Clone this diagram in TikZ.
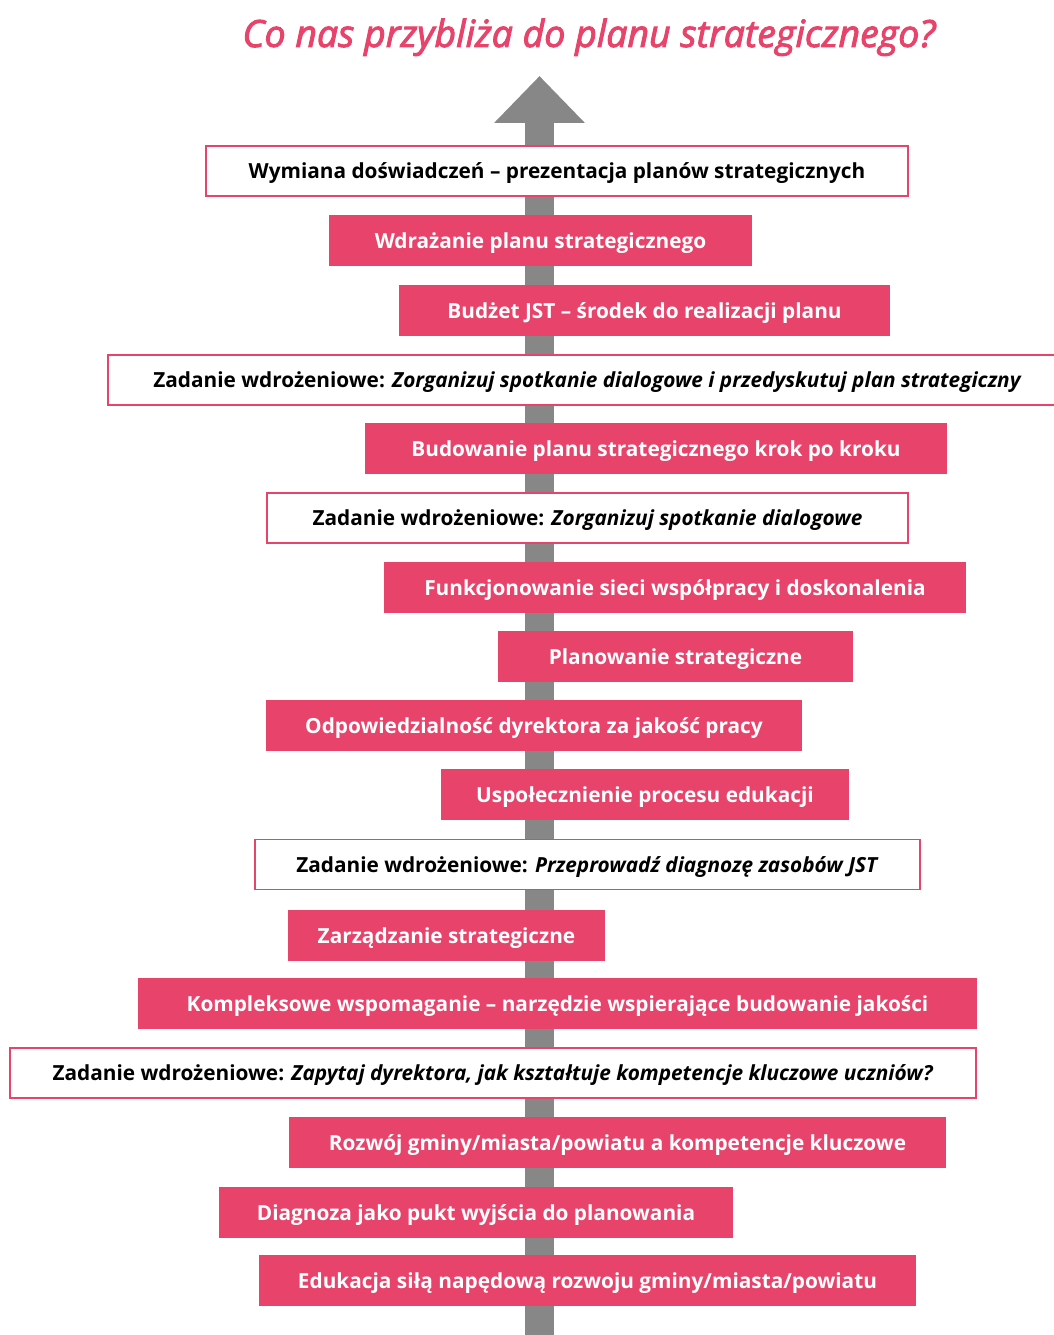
\documentclass[tikz,border=0pt]{standalone}
\usepackage{fontspec}
\setmainfont{Open Sans}
\newfontfamily\titlefont[FakeBold=2.5]{Open Sans}
\usetikzlibrary{arrows.meta}
\definecolor{pinkred}{HTML}{E8436A}
\definecolor{arrowgray}{HTML}{878787}

\begin{document}
\begin{tikzpicture}[x=1pt,y=-1pt,
	box/.style={rectangle, inner sep=0pt, minimum height=51pt, font=\fontsize{20.8}{25}\selectfont\bfseries, text height=15pt, text depth=0pt},
	pinkbox/.style={box, fill=pinkred, text=white},
	whitebox/.style={box, draw=pinkred, line width=1.2pt, fill=white, text=black, minimum height=50pt}]
				\useasboundingbox (0,0) rectangle (1054,1335);
				
				% the arrow behind the boxes
				\coordinate (18) at (539.5,1345);
				\coordinate (19) at (539.5,76);
				\draw[arrowgray, line width=29pt, -{Triangle[length=47pt,width=88pt]}] (18) -- (19);
				
				\node[anchor=base, text=pinkred, font=\fontsize{37.5}{44}\titlefont\itshape] (0) at (589,47) {Co nas przybliża do planu strategicznego?};
				
				\node[whitebox, minimum width=702pt] (1) at (557,171) {Wymiana doświadczeń – prezentacja planów strategicznych};
				\node[pinkbox, minimum width=423pt] (2) at (540.5,240.5) {Wdrażanie planu strategicznego};
				\node[pinkbox, minimum width=491pt] (3) at (644.5,310.5) {Budżet JST – środek do realizacji planu};
				\node[whitebox, minimum width=959pt] (4) at (587.5,380) {Zadanie wdrożeniowe: \textit{Zorganizuj spotkanie dialogowe i przedyskutuj plan strategiczny}};
				\node[pinkbox, minimum width=582pt] (5) at (656,448.5) {Budowanie planu strategicznego krok po kroku};
				\node[whitebox, minimum width=641pt] (6) at (587.5,518) {Zadanie wdrożeniowe: \textit{Zorganizuj spotkanie dialogowe}};
				\node[pinkbox, minimum width=582pt] (7) at (675,587.5) {Funkcjonowanie sieci współpracy i doskonalenia};
				\node[pinkbox, minimum width=355pt] (8) at (675.5,656.5) {Planowanie strategiczne};
				\node[pinkbox, minimum width=536pt] (9) at (534,725.5) {Odpowiedzialność dyrektora za jakość pracy};
				\node[pinkbox, minimum width=408pt] (10) at (645,794.5) {Uspołecznienie procesu edukacji};
				\node[whitebox, minimum width=665pt] (11) at (587.5,864.5) {Zadanie wdrożeniowe: \textit{Przeprowadź diagnozę zasobów JST}};
				\node[pinkbox, minimum width=317pt] (12) at (446.5,935.5) {Zarządzanie strategiczne};
				\node[pinkbox, minimum width=839pt] (13) at (557.5,1003.5) {Kompleksowe wspomaganie – narzędzie wspierające budowanie jakości};
				\node[whitebox, minimum width=966pt] (14) at (493,1073) {Zadanie wdrożeniowe: \textit{Zapytaj dyrektora, jak kształtuje kompetencje kluczowe uczniów?}};
				\node[pinkbox, minimum width=657pt] (15) at (617.5,1142.5) {Rozwój gminy/miasta/powiatu a kompetencje kluczowe};
				\node[pinkbox, minimum width=514pt] (16) at (476,1212.5) {Diagnoza jako pukt wyjścia do planowania};
				\node[pinkbox, minimum width=657pt] (17) at (587.5,1280.5) {Edukacja siłą napędową rozwoju gminy/miasta/powiatu};
\end{tikzpicture}
\end{document}
